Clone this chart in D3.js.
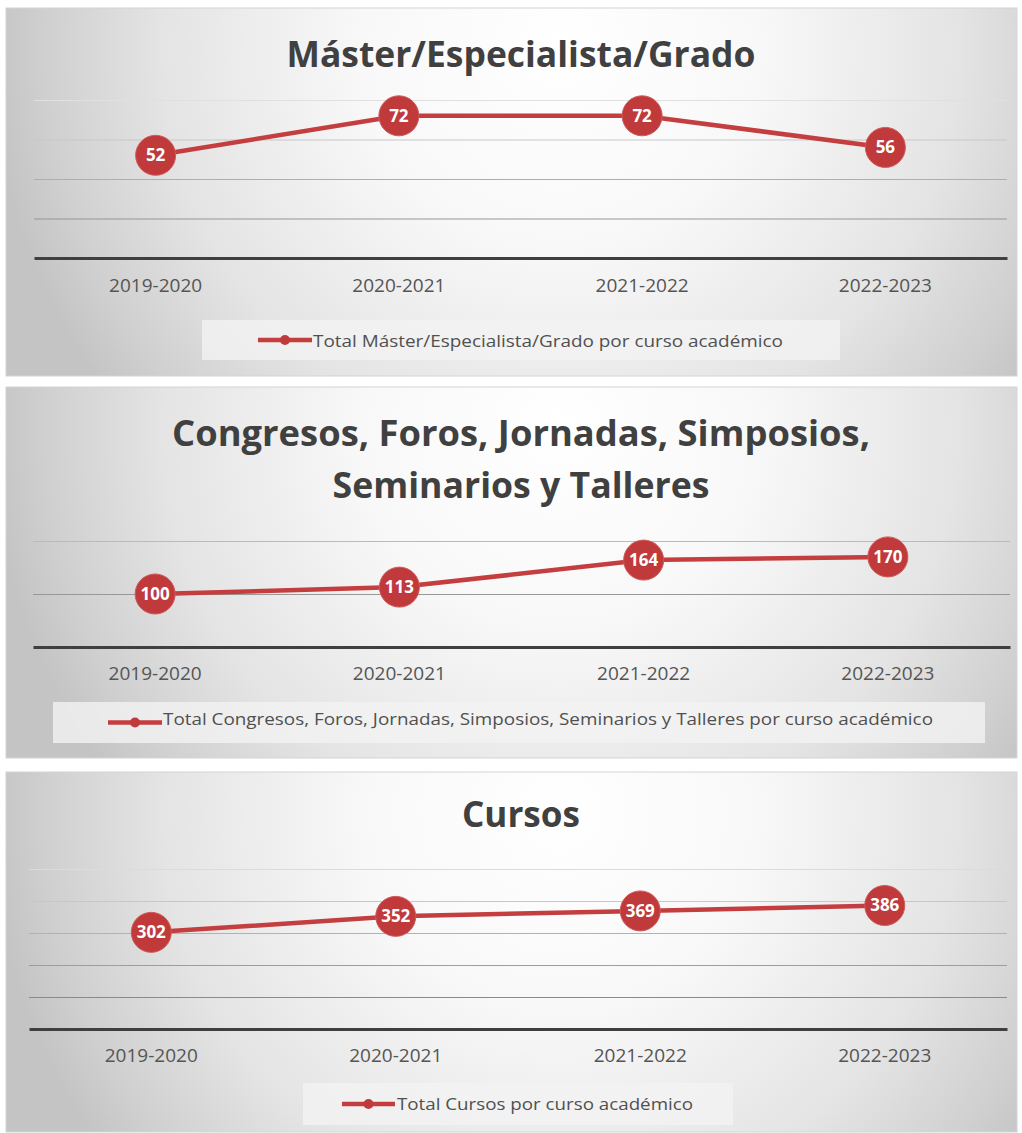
<!doctype html>
<html>
<head>
<meta charset="utf-8"/>
<title>Totales por curso académico</title>
<script src="https://d3js.org/d3.v7.min.js"></script>
<style>
  body { margin: 0; background: #fff; }
  svg { display: block; font-family: "Open Sans", "Noto Sans", sans-serif; }
</style>
</head>
<body>
<svg id="chart"></svg>
<script>
// datos
var categories = ["2019-2020", "2020-2021", "2021-2022", "2022-2023"];

var masterValues = [52, 72, 72, 56];
var congresosValues = [100, 113, 164, 170];
var cursosValues = [302, 352, 369, 386];

var masterTicks = [0, 20, 40, 60, 80];
var congresosTicks = [0, 100, 200];
var cursosTicks = [0, 100, 200, 300, 400, 500];

var masterTitle = ["Máster/Especialista/Grado"];
var congresosTitle = ["Congresos, Foros, Jornadas, Simposios,", "Seminarios y Talleres"];
var cursosTitle = ["Cursos"];

var masterLegend = "Total Máster/Especialista/Grado por curso académico";
var congresosLegend = "Total Congresos, Foros, Jornadas, Simposios, Seminarios y Talleres por curso académico";
var cursosLegend = "Total Cursos por curso académico";

var W = 1022, H = 1133;
var red = "#c0393b";

var svg = d3.select("#chart").attr("width", W).attr("height", H);
var defs = svg.append("defs");

// un panel por gráfico (posiciones a mano, sacadas de la imagen)
var panels = [
  { values: masterValues, ticks: masterTicks, title: masterTitle, legend: masterLegend,
    box: [6, 8, 1017, 376], px: [34, 1007], py: [258, 100],
    titleY: [67], titleW: [469], labelY: 292,
    leg: { x0: 202, x1: 840, y0: 320, y1: 360, lx0: 258, lx1: 312, tx: 313, tw: 470, ty: 347 } },
  { values: congresosValues, ticks: congresosTicks, title: congresosTitle, legend: congresosLegend,
    box: [6, 387, 1017, 758], px: [33, 1010], py: [647, 541],
    titleY: [446, 498], titleW: [698, 377], labelY: 680,
    leg: { x0: 53, x1: 985, y0: 702, y1: 743, lx0: 108, lx1: 162, tx: 163, tw: 770, ty: 725 } },
  { values: cursosValues, ticks: cursosTicks, title: cursosTitle, legend: cursosLegend,
    box: [6, 772, 1017, 1132], px: [29, 1007], py: [1029, 869],
    titleY: [827], titleW: [118], labelY: 1062,
    leg: { x0: 303, x1: 733, y0: 1083, y1: 1125, lx0: 342, lx1: 395, tx: 397, tw: 296, ty: 1110 } }
];

panels.forEach(function(p, i) {
  var b = p.box;
  var g = svg.append("g");

  // fondo degradado (radial, blanco arriba al centro, gris a los lados)
  var grad = defs.append("radialGradient")
    .attr("id", "bg" + i)
    .attr("gradientUnits", "userSpaceOnUse")
    .attr("cx", 560).attr("cy", b[1] + 40).attr("r", 570);
  grad.append("stop").attr("offset", 0).attr("stop-color", "#ffffff");
  grad.append("stop").attr("offset", 0.35).attr("stop-color", "#f8f8f8");
  grad.append("stop").attr("offset", 0.7).attr("stop-color", "#e4e4e4");
  grad.append("stop").attr("offset", 0.9).attr("stop-color", "#d0d0d0");
  grad.append("stop").attr("offset", 1).attr("stop-color", "#c4c4c4");

  g.append("rect")
    .attr("x", b[0]).attr("y", b[1])
    .attr("width", b[2] - b[0]).attr("height", b[3] - b[1])
    .attr("fill", "url(#bg" + i + ")")
    .attr("stroke", "#d4d4d4");

  var x = d3.scaleBand().domain(categories).range(p.px);
  var y = d3.scaleLinear().domain([0, d3.max(p.ticks)]).range(p.py);
  var cx = function(d, j) { return x(categories[j]) + x.bandwidth() / 2; };

  // color de las líneas de división según altura en el panel
  var gridColor = d3.scaleLinear()
    .domain([0.25, 0.62])
    .range(["#e0e0e0", "#8a8a8a"])
    .clamp(true);

  // líneas de división
  var grid = g.append("g")
    .attr("transform", "translate(" + p.px[0] + ",0)")
    .call(d3.axisLeft(y).tickValues(p.ticks.slice(1)).tickSize(-(p.px[1] - p.px[0])).tickFormat(""));
  grid.select(".domain").remove();
  grid.selectAll(".tick line")
    .attr("stroke", function(d) { return gridColor((y(d) - b[1]) / (b[3] - b[1])); })
    .attr("stroke-width", 1.2);

  // eje x
  var xAxis = g.append("g")
    .attr("transform", "translate(0," + p.py[0] + ")")
    .call(d3.axisBottom(x).tickSize(0).tickPadding(0));
  xAxis.select(".domain")
    .attr("stroke", "#3f3f3f").attr("stroke-width", 3);
  xAxis.selectAll(".tick text")
    .attr("y", p.labelY - p.py[0]).attr("dy", 0)
    .attr("fill", "#555555")
    .style("font-size", "19px")
    .style("font-family", "'Open Sans', sans-serif");

  // título
  g.selectAll(".title")
    .data(p.title)
    .enter().append("text")
    .attr("x", 521)
    .attr("y", function(d, j) { return p.titleY[j]; })
    .attr("text-anchor", "middle")
    .attr("textLength", function(d, j) { return p.titleW[j]; })
    .attr("lengthAdjust", "spacingAndGlyphs")
    .attr("fill", "#404040")
    .style("font-size", "35px")
    .style("font-weight", "bold")
    .text(function(d) { return d; });

  // línea
  var line = d3.line()
    .x(function(d, j) { return cx(d, j); })
    .y(function(d) { return y(d); });

  g.append("path")
    .datum(p.values)
    .attr("d", line)
    .attr("fill", "none")
    .attr("stroke", "#c43d3f")
    .attr("stroke-width", 4.5);

  // marcadores con etiqueta
  g.selectAll(".dot")
    .data(p.values)
    .enter().append("circle")
    .attr("cx", cx)
    .attr("cy", function(d) { return y(d); })
    .attr("r", 20)
    .attr("fill", red)
    .attr("stroke", "#d05a5a")
    .attr("stroke-width", 1);

  g.selectAll(".lbl")
    .data(p.values)
    .enter().append("text")
    .attr("x", cx)
    .attr("y", function(d) { return y(d) + 6; })
    .attr("text-anchor", "middle")
    .attr("fill", "#fff")
    .style("font-size", "17px")
    .style("font-weight", "bold")
    .text(function(d) { return d; });

  // leyenda
  var L = p.leg;
  g.append("rect")
    .attr("x", L.x0).attr("y", L.y0)
    .attr("width", L.x1 - L.x0).attr("height", L.y1 - L.y0)
    .attr("fill", "#f2f2f2").attr("fill-opacity", 0.8);
  var ly = (L.y0 + L.y1) / 2;
  g.append("line")
    .attr("x1", L.lx0).attr("x2", L.lx1).attr("y1", ly).attr("y2", ly)
    .attr("stroke", "#c43d3f").attr("stroke-width", 4.5);
  g.append("circle")
    .attr("cx", (L.lx0 + L.lx1) / 2).attr("cy", ly).attr("r", 5)
    .attr("fill", red);
  g.append("text")
    .attr("x", L.tx).attr("y", L.ty)
    .attr("textLength", L.tw)
    .attr("lengthAdjust", "spacingAndGlyphs")
    .attr("fill", "#505050")
    .style("font-size", "17px")
    .text(p.legend);
});
</script>
</body>
</html>
